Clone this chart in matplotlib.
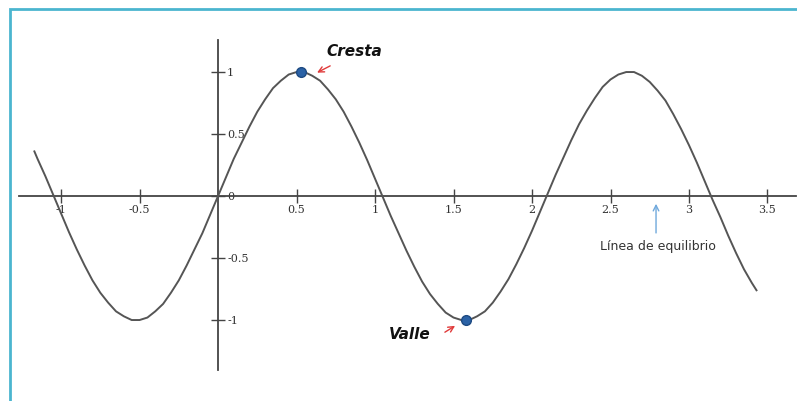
"""Onda sinusoidal con cresta, valle y linea de equilibrio."""
import matplotlib
matplotlib.use("Agg")
import matplotlib.pyplot as plt
from matplotlib.patches import Rectangle

# curva
wave_x = [-1.17, -1.15, -1.1, -1.05, -1.0, -0.95, -0.9, -0.85, -0.8, -0.75,
          -0.7, -0.65, -0.6, -0.55, -0.5, -0.45, -0.4, -0.35, -0.3, -0.25,
          -0.2, -0.15, -0.1, -0.05, 0.0, 0.05, 0.1, 0.15, 0.2, 0.25, 0.3,
          0.35, 0.4, 0.45, 0.5, 0.55, 0.6, 0.65, 0.7, 0.75, 0.8, 0.85, 0.9,
          0.95, 1.0, 1.05, 1.1, 1.15, 1.2, 1.25, 1.3, 1.35, 1.4, 1.45, 1.5,
          1.55, 1.6, 1.65, 1.7, 1.75, 1.8, 1.85, 1.9, 1.95, 2.0, 2.05, 2.1,
          2.15, 2.2, 2.25, 2.3, 2.35, 2.4, 2.45, 2.5, 2.55, 2.6, 2.65, 2.7,
          2.75, 2.8, 2.85, 2.9, 2.95, 3.0, 3.05, 3.1, 3.15, 3.2, 3.25, 3.3,
          3.35, 3.4, 3.43]
wave_y = [0.36, 0.30, 0.16, 0.01, -0.14, -0.29, -0.43, -0.56, -0.68, -0.78,
          -0.86, -0.93, -0.97, -1.00, -1.00, -0.98, -0.93, -0.87, -0.78, -0.68,
          -0.56, -0.43, -0.30, -0.15, 0.00, 0.15, 0.30, 0.43, 0.56, 0.68, 0.78,
          0.87, 0.93, 0.98, 1.00, 1.00, 0.97, 0.93, 0.86, 0.78, 0.68, 0.56, 0.43,
          0.29, 0.14, -0.01, -0.16, -0.30, -0.44, -0.57, -0.69, -0.79, -0.87,
          -0.94, -0.98, -1.00, -1.00, -0.97, -0.93, -0.86, -0.77, -0.67, -0.55,
          -0.42, -0.28, -0.13, 0.02, 0.17, 0.31, 0.45, 0.58, 0.69, 0.79, 0.88,
          0.94, 0.98, 1.00, 1.00, 0.97, 0.92, 0.85, 0.77, 0.66, 0.54, 0.41,
          0.27, 0.12, -0.03, -0.17, -0.32, -0.46, -0.59, -0.70, -0.76]

crest = (0.53, 1.0)
trough = (1.58, -1.0)

x_ticks = [-1, -0.5, 0.5, 1, 1.5, 2, 2.5, 3, 3.5]
x_labels = ["-1", "-0.5", "0.5", "1", "1.5", "2", "2.5", "3", "3.5"]
y_ticks = [-1, -0.5, 0, 0.5, 1]
y_labels = ["-1", "-0.5", "0", "0.5", "1"]

axis_col = "#444444"

fig = plt.figure(figsize=(7.97, 4.01), dpi=100)
ax = fig.add_axes([0, 0, 1, 1])
ax.set_xlim(-1.389, 3.688)
ax.set_ylim(-1.653, 1.581)

ax.plot(wave_x, wave_y, color="#555555", lw=1.4, zorder=3)
ax.plot(*crest, "o", ms=7, color="#2b62a6", mec="#1d4a82", zorder=4)
ax.plot(*trough, "o", ms=7, color="#2b62a6", mec="#1d4a82", zorder=4)

# ejes cruzando en el origen
for s in ["top", "left"]:
    ax.spines[s].set_visible(False)
ax.spines["bottom"].set_position(("data", 0))
ax.spines["right"].set_position(("data", 0))
ax.spines["bottom"].set_bounds(-1.27, 3.68)
ax.spines["right"].set_bounds(-1.40, 1.26)
for s in ["bottom", "right"]:
    ax.spines[s].set_color(axis_col)
    ax.spines[s].set_linewidth(1.3)
ax.yaxis.tick_right()
ax.set_xticks(x_ticks)
ax.set_xticklabels(x_labels)
ax.set_yticks(y_ticks)
ax.set_yticklabels(y_labels)
ax.tick_params(direction="inout", length=10, width=1, color=axis_col,
               labelsize=8, labelcolor="#333333", pad=1.5)
for lab in ax.get_xticklabels() + ax.get_yticklabels():
    lab.set_family("DejaVu Serif")

# rotulos
ax.text(0.865, 1.165, "Cresta", fontsize=11, fontweight="bold",
        style="italic", ha="center", va="center", color="#111111")
ax.annotate("", xy=(0.615, 0.985), xytext=(0.73, 1.06),
            arrowprops=dict(arrowstyle="->", color="#e03a3a", lw=1))
ax.text(1.22, -1.12, "Valle", fontsize=11, fontweight="bold",
        style="italic", ha="center", va="center", color="#111111")
ax.annotate("", xy=(1.525, -1.035), xytext=(1.43, -1.11),
            arrowprops=dict(arrowstyle="->", color="#e03a3a", lw=1))
ax.text(2.80, -0.41, "Línea de equilibrio", fontsize=9, ha="center",
        va="center", color="#333333")
ax.annotate("", xy=(2.79, -0.04), xytext=(2.79, -0.32),
            arrowprops=dict(arrowstyle="->", color="#6fa8dc", lw=1))

# marco azul
fig.add_artist(Rectangle((10 / 797, -0.1), 1.2, 1.1 - 9 / 401,
                         transform=fig.transFigure, fill=False,
                         edgecolor="#4bb5cf", lw=2, clip_on=False))

fig.savefig("out.png", dpi=100)
